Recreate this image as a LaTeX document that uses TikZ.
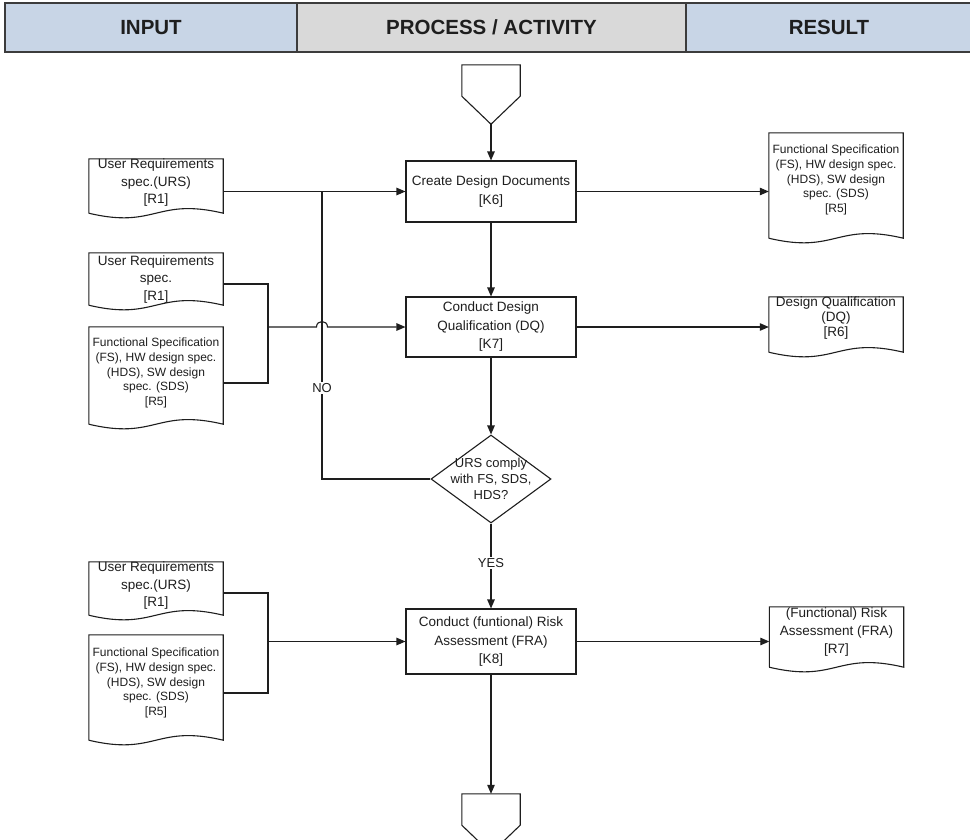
\documentclass[tikz,border=0pt]{standalone}
\usepackage{fontspec}
\setmainfont{Liberation Sans}
\usetikzlibrary{calc,shapes.geometric,arrows.meta}

\definecolor{hdrblue}{HTML}{C8D5E6}
\definecolor{hdrgrey}{HTML}{D9D9D9}
\definecolor{ink}{HTML}{1E1E1E}
\definecolor{framegrey}{HTML}{3C3C3C}

% document symbol: straight top and sides, wavy bottom edge, drawn around a body node
\newcommand\docoutline[1]{%
  \draw[shapeline] (#1.south west) -- (#1.north west) -- (#1.north east) -- (#1.south east)
    .. controls ($(#1.south)+(0,-16)$) and ($(#1.south)+(0,16)$) .. (#1.south west);}

% off-page connector: box with a pointed bottom
\newcommand\offpage[1]{%
  \draw[shapeline] (#1.south west) -- (#1.north west) -- (#1.north east) -- (#1.south east)
    -- (#1-tip) -- cycle;}

\tikzset{
  shapeline/.style={draw=ink, line width=1.1pt, line join=miter},
  conn/.style={draw=ink, line width=1.1pt},
  arrow/.style={conn, -{Triangle[length=9pt,width=7.5pt]}},
  hdrcell/.style={draw=framegrey, line width=1.6pt, minimum height=49pt, inner sep=0pt,
    font=\fontsize{20.5pt}{24pt}\selectfont\bfseries, text=ink},
  procbox/.style={draw=ink, line width=1.1pt, fill=white, minimum width=170pt, inner sep=0pt,
    align=center, font=\fontsize{13.5pt}{18.5pt}\selectfont, text=ink},
  docbody/.style={inner sep=0pt, minimum width=134pt},
  doctext/.style={inner sep=0pt, align=center, font=\fontsize{13.5pt}{17.5pt}\selectfont, text=ink},
  fstext/.style={inner sep=0pt, align=center, font=\fontsize{12pt}{14.6pt}\selectfont, text=ink},
  decision/.style={diamond, draw=ink, line width=1.1pt, fill=white, inner sep=0pt,
    minimum width=120pt, minimum height=88pt},
  dectext/.style={inner sep=0pt, align=center, font=\fontsize{13pt}{16pt}\selectfont, text=ink},
  lbl/.style={fill=white, inner sep=1.5pt, font=\fontsize{13pt}{15pt}\selectfont, text=ink},
  pentabody/.style={inner sep=0pt, minimum width=58pt, minimum height=31pt},
}

\begin{document}
\begin{tikzpicture}[x=1pt, y=-1pt]
\useasboundingbox (0,0) rectangle (970,839);
\fill[white] (0,0) rectangle (970,839);

% column header
\node[hdrcell, fill=hdrblue, minimum width=292pt] (hin) at (151,27.5) {INPUT};
\node[hdrcell, fill=hdrgrey, minimum width=389pt] (hproc) at (491.5,27.5) {PROCESS / ACTIVITY};
\node[hdrcell, fill=hdrblue, minimum width=286pt] (hres) at (829,27.5) {RESULT};

% entry connector
\node[pentabody] (pstart) at (491,80.5) {};
\coordinate (pstart-tip) at ($(pstart.south)+(0,28)$);
\offpage{pstart}

% process steps
\node[procbox, minimum height=61pt] (k6) at (491,191.5) {Create Design Documents\\{[K6]}};
\node[procbox, minimum height=60pt] (k7) at (491,327) {Conduct Design\\Qualification (DQ)\\{[K7]}};
\node[decision] (dec) at (491,479) {};
\node[dectext] (dectxt) at (491,479) {URS comply\\with FS, SDS,\\HDS?};
\node[procbox, minimum height=65pt] (k8) at (491,641.5) {Conduct (funtional) Risk\\Assessment (FRA)\\{[K8]}};

% exit connector
\node[pentabody] (pend) at (491,809.5) {};
\coordinate (pend-tip) at ($(pend.south)+(0,28)$);
\offpage{pend}

% input documents
\node[docbody, minimum height=54pt] (in1) at (156,186) {};
\docoutline{in1}
\node[doctext] (in1txt) at (156,183) {User Requirements\\spec.(URS)\\{[R1]}};

\node[docbody, minimum height=52pt] (in2) at (156,279) {};
\docoutline{in2}
\node[doctext] (in2txt) at (156,279.5) {User Requirements\\spec.\\{[R1]}};

\node[docbody, minimum height=97pt] (in3) at (156,375.5) {};
\docoutline{in3}
\node[fstext] (in3txt) at (156,373) {Functional Specification\\(FS), HW design spec.\\(HDS), SW design\\spec. (SDS)\\{[R5]}};

\node[docbody, minimum height=53pt] (in4) at (156,588.5) {};
\docoutline{in4}
\node[doctext] (in4txt) at (156,586) {User Requirements\\spec.(URS)\\{[R1]}};

\node[docbody, minimum height=105pt] (in5) at (156,687.5) {};
\docoutline{in5}
\node[fstext] (in5txt) at (156,683) {Functional Specification\\(FS), HW design spec.\\(HDS), SW design\\spec. (SDS)\\{[R5]}};

% result documents
\node[docbody, minimum height=105pt] (out1) at (836,185.5) {};
\docoutline{out1}
\node[fstext] (out1txt) at (836,180) {Functional Specification\\(FS), HW design spec.\\(HDS), SW design\\spec. (SDS)\\{[R5]}};

\node[docbody, minimum height=55pt] (out2) at (836,324.5) {};
\docoutline{out2}
\node[doctext, font=\fontsize{13.5pt}{14.6pt}\selectfont] (out2txt) at (836,318) {Design Qualification\\(DQ)\\{[R6]}};

\node[docbody, minimum height=60pt] (out3) at (836.5,637) {};
\docoutline{out3}
\node[doctext, font=\fontsize{13.5pt}{18pt}\selectfont] (out3txt) at (836.5,632) {(Functional) Risk\\Assessment (FRA)\\{[R7]}};

% routing columns
\coordinate (bus) at (268,0);
\coordinate (loop) at (322,0);

% main flow
\draw[arrow] (pstart-tip) -- (k6.north);
\draw[arrow] (k6.south) -- (k7.north);
\draw[arrow] (k7.south) -- (dec.north);
\draw[arrow] (dec.south) -- (k8.north);
\draw[arrow] (k8.south) -- (pend.north);

% inputs and results of K6
\draw[arrow] (in1.east |- k6.west) -- (k6.west);
\draw[arrow] (k6.east) -- (k6.east -| out1.west);

% "no" loop back to the design step
\draw[conn] (dec.west) -| (loop |- k6.west);

% inputs and results of K7 (line hops over the loop)
\draw[conn] ($(in2.east)+(0,5)$) -| ($(bus |- in3.east)+(0,7.5)$) -- ($(in3.east)+(0,7.5)$);
\coordinate (hop) at (loop |- k7.west);
\draw[arrow] (bus |- k7.west) -- ($(hop)+(-5.5,0)$)
  .. controls ($(hop)+(-5.5,-7.3)$) and ($(hop)+(5.5,-7.3)$) .. ($(hop)+(5.5,0)$) -- (k7.west);
\draw[arrow] (k7.east) -- (k7.east -| out2.west);

% inputs and results of K8
\draw[conn] ($(in4.east)+(0,4.5)$) -| ($(bus |- in5.east)+(0,5.5)$) -- ($(in5.east)+(0,5.5)$);
\draw[arrow] (bus |- k8.west) -- (k8.west);
\draw[arrow] (k8.east) -- (k8.east -| out3.west);

% branch labels
\node[lbl] (nolbl) at (322,388) {NO};
\node[lbl] (yeslbl) at (491,563) {YES};
\end{tikzpicture}
\end{document}
